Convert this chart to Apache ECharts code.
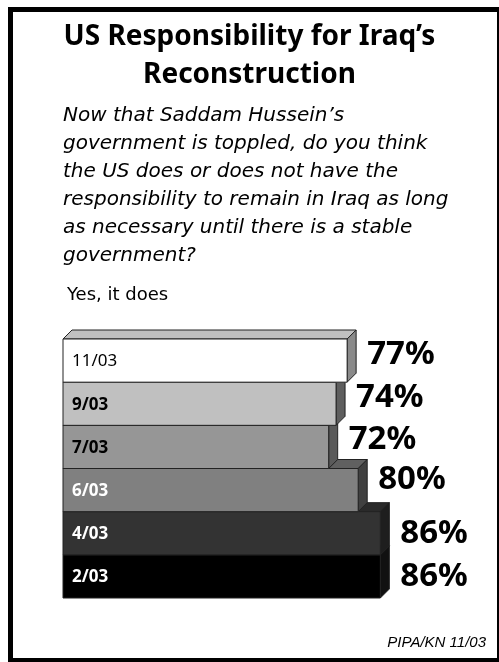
<!DOCTYPE html>
<html>
<head>
<meta charset="utf-8">
<script src="https://cdn.jsdelivr.net/npm/echarts@6/dist/echarts.min.js"></script>
<style>
  html, body { margin: 0; padding: 0; background: #fff; }
  #chart { width: 499px; height: 662px; }
</style>
</head>
<body>
<div id="chart"></div>
<script>
// Survey waves, bottom to top on the category axis
const waves = ['2/03', '4/03', '6/03', '7/03', '9/03', '11/03'];
// Share answering "Yes, it does" (%)
const yesShare = [86, 86, 80, 72, 74, 77];
// Face colours per wave: front, top, side
const frontColors = ['#000000', '#333333', '#808080', '#969696', '#c0c0c0', '#ffffff'];
const topColors   = ['#1a1a1a', '#2a2a2a', '#606060', '#6e6e6e', '#8c8c8c', '#c0c0c0'];
const sideColors  = ['#111111', '#1e1e1e', '#404040', '#5a5a5a', '#5e5e5e', '#8a8a8a'];
const labelColors = ['#ffffff', '#ffffff', '#ffffff', '#000000', '#000000', '#000000'];
const labelWeights = ['bold', 'bold', 'bold', 'bold', 'bold', 'normal'];
// Vertical offset of each percentage label from the middle of its bar
const pctLabelDy = [0, 0, -10, -7, -6, -6];

const DEPTH = 9;

const chart = echarts.init(document.getElementById('chart'), null, { renderer: 'canvas' });

function renderBar(params, api) {
  const i = params.dataIndex;
  const v = api.value(0);
  const start = api.coord([0, i]);
  const end = api.coord([v, i]);
  const band = api.size([0, 1])[1];
  const x0 = start[0], x1 = end[0];
  const yTop = end[1] - band / 2, yBot = end[1] + band / 2;
  const yMid = end[1];
  const d = DEPTH;
  const edge = { stroke: '#222', lineWidth: 1 };
  return {
    type: 'group',
    children: [
      { type: 'polygon',
        shape: { points: [[x0, yTop], [x0 + d, yTop - d], [x1 + d, yTop - d], [x1, yTop]] },
        style: Object.assign({ fill: topColors[i] }, edge) },
      { type: 'polygon',
        shape: { points: [[x1, yTop], [x1 + d, yTop - d], [x1 + d, yBot - d], [x1, yBot]] },
        style: Object.assign({ fill: sideColors[i] }, edge) },
      { type: 'rect',
        shape: { x: x0, y: yTop, width: x1 - x0, height: yBot - yTop },
        style: Object.assign({ fill: frontColors[i] }, edge) },
      { type: 'text',
        style: { x: x0 + 9, y: yMid + 1, text: waves[i],
                 fill: labelColors[i], font: labelWeights[i] + ' 17px "Noto Sans"',
                 verticalAlign: 'middle', align: 'left' } },
      { type: 'text',
        style: { x: x1 + d + 11, y: yMid + pctLabelDy[i], text: v + '%',
                 fill: '#000', font: 'bold 33px "Noto Sans"',
                 verticalAlign: 'middle', align: 'left' } }
    ]
  };
}

chart.setOption({
  animation: false,
  backgroundColor: '#fff',
  title: {
    text: 'US Responsibility for Iraq\u2019s\nReconstruction',
    left: 'center',
    top: 13,
    textStyle: { fontFamily: 'Noto Sans', fontWeight: 'bold', fontSize: 28, lineHeight: 38, color: '#000' }
  },
  graphic: [
    { type: 'rect', shape: { x: 10.5, y: 9.5, width: 489, height: 651 },
      style: { fill: 'none', stroke: '#000', lineWidth: 5 }, silent: true },
    { type: 'text', left: 63, top: 102,
      style: { text: 'Now that Saddam Hussein\u2019s\ngovernment is toppled, do you think\nthe US does or does not have the\nresponsibility to remain in Iraq as long\nas necessary until there is a stable\ngovernment?',
               font: 'italic 20px "DejaVu Sans"', lineHeight: 28, fill: '#000' } },
    { type: 'text', left: 67, top: 286,
      style: { text: 'Yes, it does', font: '18px "DejaVu Sans"', fill: '#000' } },
    { type: 'text', right: 13, top: 635,
      style: { text: 'PIPA/KN 11/03', font: 'italic 15px "Liberation Sans"', fill: '#000', align: 'right' } }
  ],
  grid: { left: 63, right: 67, top: 339, bottom: 64 },
  xAxis: { type: 'value', min: 0, max: 100, show: false },
  yAxis: { type: 'category', data: waves, show: false },
  series: [{
    type: 'custom',
    renderItem: renderBar,
    data: yesShare.map(v => [v]),
    encode: { x: 0 }
  }]
});
</script>
</body>
</html>
